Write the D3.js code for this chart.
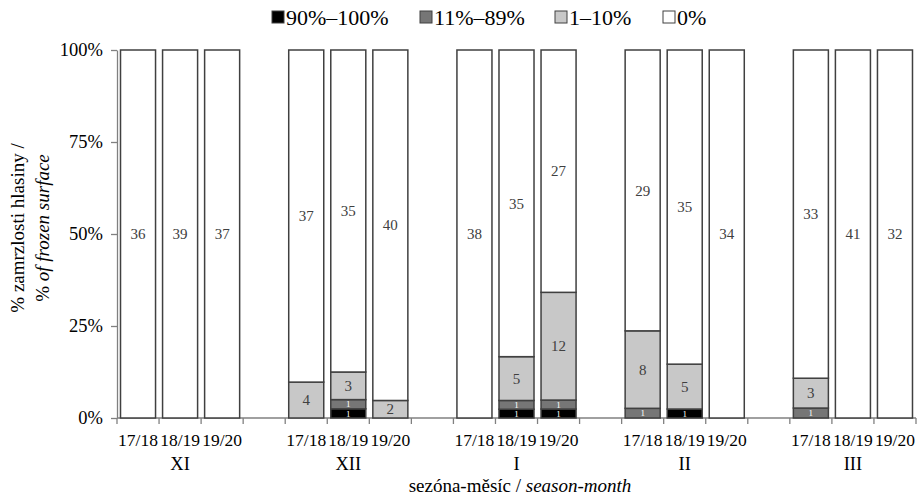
<!DOCTYPE html>
<html>
<head>
<meta charset="utf-8">
<script src="https://cdn.jsdelivr.net/npm/d3@7"></script>
<style>
  body { margin: 0; background: #fff; }
  svg, svg text { font-family: "Liberation Serif", "Times New Roman", serif !important; }
</style>
</head>
<body>
<div id="chart"></div>
<script>
// categories (blank slots are the gaps between months)
const months = ["XI", "XII", "I", "II", "III"];
const seasons = ["17/18", "18/19", "19/20"];
const keys = ["c90", "c11", "c1", "c0"];
const legendLabels = ["90%–100%", "11%–89%", "1–10%", "0%"];
const colors = ["#000000", "#767676", "#c8c8c8", "#ffffff"];

// counts per bar, order: 90–100, 11–89, 1–10, 0
const counts90 = [0, 0, 0, 0, 1, 0, 0, 1, 1, 0, 1, 0, 0, 0, 0];
const counts11 = [0, 0, 0, 0, 1, 0, 0, 1, 1, 1, 0, 0, 1, 0, 0];
const counts1 = [0, 0, 0, 4, 3, 2, 0, 5, 12, 8, 5, 0, 3, 0, 0];
const counts0 = [36, 39, 37, 37, 35, 40, 38, 35, 27, 29, 35, 34, 33, 41, 32];

const yTicks = [0, 0.25, 0.5, 0.75, 1];

const FONT = "Liberation Serif";

class FrozenChart {
    constructor(parentElement) {
        this.parentElement = parentElement;
        this.initVis();
    }

    initVis() {
        let vis = this;
        vis.margin = {top: 50, right: 3, bottom: 79, left: 117};
        vis.width = 919 - vis.margin.left - vis.margin.right;
        vis.height = 497 - vis.margin.top - vis.margin.bottom;

        vis.svg = d3.select("#" + vis.parentElement).append("svg")
            .attr("width", 919)
            .attr("height", 497)
            .attr("font-family", FONT)
            .append("g")
            .attr("transform", `translate(${vis.margin.left},${vis.margin.top})`);

        // build slot list: 3 seasons per month plus a blank slot between months
        vis.slots = [];
        vis.displayData = [];
        let idx = 0;
        months.forEach((m, mi) => {
            seasons.forEach(s => {
                let id = m + "-" + s;
                vis.slots.push(id);
                vis.displayData.push({id: id, month: m, season: s,
                    c90: counts90[idx], c11: counts11[idx], c1: counts1[idx], c0: counts0[idx]});
                idx++;
            });
            if (mi < months.length - 1) vis.slots.push("gap" + mi);
        });

        vis.x = d3.scaleBand().domain(vis.slots).range([0, vis.width])
            .paddingInner(0.167).paddingOuter(0.0835);
        vis.y = d3.scaleLinear().domain([0, 1]).range([vis.height, 0]);

        vis.stack = d3.stack().keys(keys)
            .offset(d3.stackOffsetExpand)(vis.displayData);

        vis.drawAxes();
        vis.drawBars();
        vis.drawLegend();
    }

    drawAxes() {
        let vis = this;
        let step = vis.x.step();

        // y axis
        let yAxis = vis.svg.append("g")
            .call(d3.axisLeft(vis.y).tickValues(yTicks).tickFormat(d3.format(".0%")).tickSize(6).tickSizeOuter(0))
            .attr("font-family", FONT);
        yAxis.select(".domain").attr("stroke", "#808080").attr("stroke-width", 1.3);
        yAxis.selectAll(".tick line").attr("stroke", "#808080").attr("stroke-width", 1.3);
        yAxis.selectAll(".tick text")
            .attr("x", -14)
            .attr("font-size", 18.5)
            .attr("fill", "#000");

        // x axis line and ticks at slot boundaries
        let xg = vis.svg.append("g").attr("transform", `translate(0,${vis.height})`);
        xg.append("line").attr("x1", 0).attr("x2", vis.width)
            .attr("stroke", "#808080").attr("stroke-width", 1.3);
        xg.selectAll(".xt").data(d3.range(vis.slots.length + 1)).enter()
            .append("line")
            .attr("x1", i => i * step).attr("x2", i => i * step)
            .attr("y1", 0).attr("y2", 6)
            .attr("stroke", "#808080").attr("stroke-width", 1.3);

        xg.selectAll(".season").data(vis.displayData).enter()
            .append("text")
            .attr("x", d => vis.x(d.id) + vis.x.bandwidth() / 2)
            .attr("y", 28)
            .attr("text-anchor", "middle")
            .attr("font-size", 17.5)
            .text(d => d.season);

        xg.selectAll(".month").data(months).enter()
            .append("text")
            .attr("x", m => vis.x(m + "-18/19") + vis.x.bandwidth() / 2)
            .attr("y", 52)
            .attr("text-anchor", "middle")
            .attr("font-size", 18.5)
            .text(m => m);

        // axis titles
        let xt = vis.svg.append("text")
            .attr("x", 520 - vis.margin.left)
            .attr("y", vis.height + 74)
            .attr("text-anchor", "middle")
            .attr("font-size", 19);
        xt.append("tspan").text("sezóna-měsíc / ");
        xt.append("tspan").attr("font-style", "italic").text("season-month");

        let yt = vis.svg.append("text")
            .attr("transform", `translate(${-93},${vis.height / 2 - 6}) rotate(-90)`)
            .attr("text-anchor", "middle")
            .attr("font-size", 19);
        yt.append("tspan").attr("x", 0).attr("dy", 0).text("% zamrzlosti hlasiny /");
        let l2 = yt.append("tspan").attr("x", 0).attr("dy", 25);
        l2.append("tspan").text("% ");
        l2.append("tspan").attr("font-style", "italic").text("of frozen surface");
    }

    drawBars() {
        let vis = this;

        let layers = vis.svg.selectAll(".layer")
            .data(vis.stack).enter()
            .append("g")
            .attr("class", "layer")
            .attr("fill", (d, i) => colors[i]);

        layers.selectAll("rect")
            .data(d => d.filter(s => s[1] - s[0] > 0))
            .enter()
            .append("rect")
            .attr("x", d => vis.x(d.data.id))
            .attr("width", vis.x.bandwidth())
            .attr("y", d => vis.y(d[1]))
            .attr("height", d => vis.y(d[0]) - vis.y(d[1]))
            .attr("stroke", "#404040")
            .attr("stroke-width", 1.5);

        // segment labels; the tiny "1" segments get small white labels
        layers.each(function (layer) {
            d3.select(this).selectAll("text")
                .data(layer.filter(s => s[1] - s[0] > 0))
                .enter()
                .append("text")
                .attr("x", d => vis.x(d.data.id) + vis.x.bandwidth() / 2)
                .attr("y", d => vis.y((d[0] + d[1]) / 2))
                .attr("dy", "0.35em")
                .attr("text-anchor", "middle")
                .attr("font-size", d => d.data[layer.key] === 1 ? 9 : 15)
                .attr("fill", d => d.data[layer.key] === 1 ? "#ffffff" : "#404040")
                .text(d => d.data[layer.key]);
        });
    }

    drawLegend() {
        let vis = this;
        let lg = vis.svg.append("g").attr("transform", `translate(0,${-33})`);
        let xs = [272, 420, 555, 663].map(v => v - vis.margin.left);
        legendLabels.forEach((lab, i) => {
            let g = lg.append("g").attr("transform", `translate(${xs[i]},0)`);
            g.append("rect").attr("x", 0).attr("y", -6).attr("width", 12).attr("height", 12)
                .attr("fill", colors[i]).attr("stroke", "#404040").attr("stroke-width", 1);
            g.append("text").attr("x", 14).attr("y", 0).attr("dy", "0.35em")
                .attr("font-size", 22).text(lab);
        });
    }
}

new FrozenChart("chart");
</script>
</body>
</html>
